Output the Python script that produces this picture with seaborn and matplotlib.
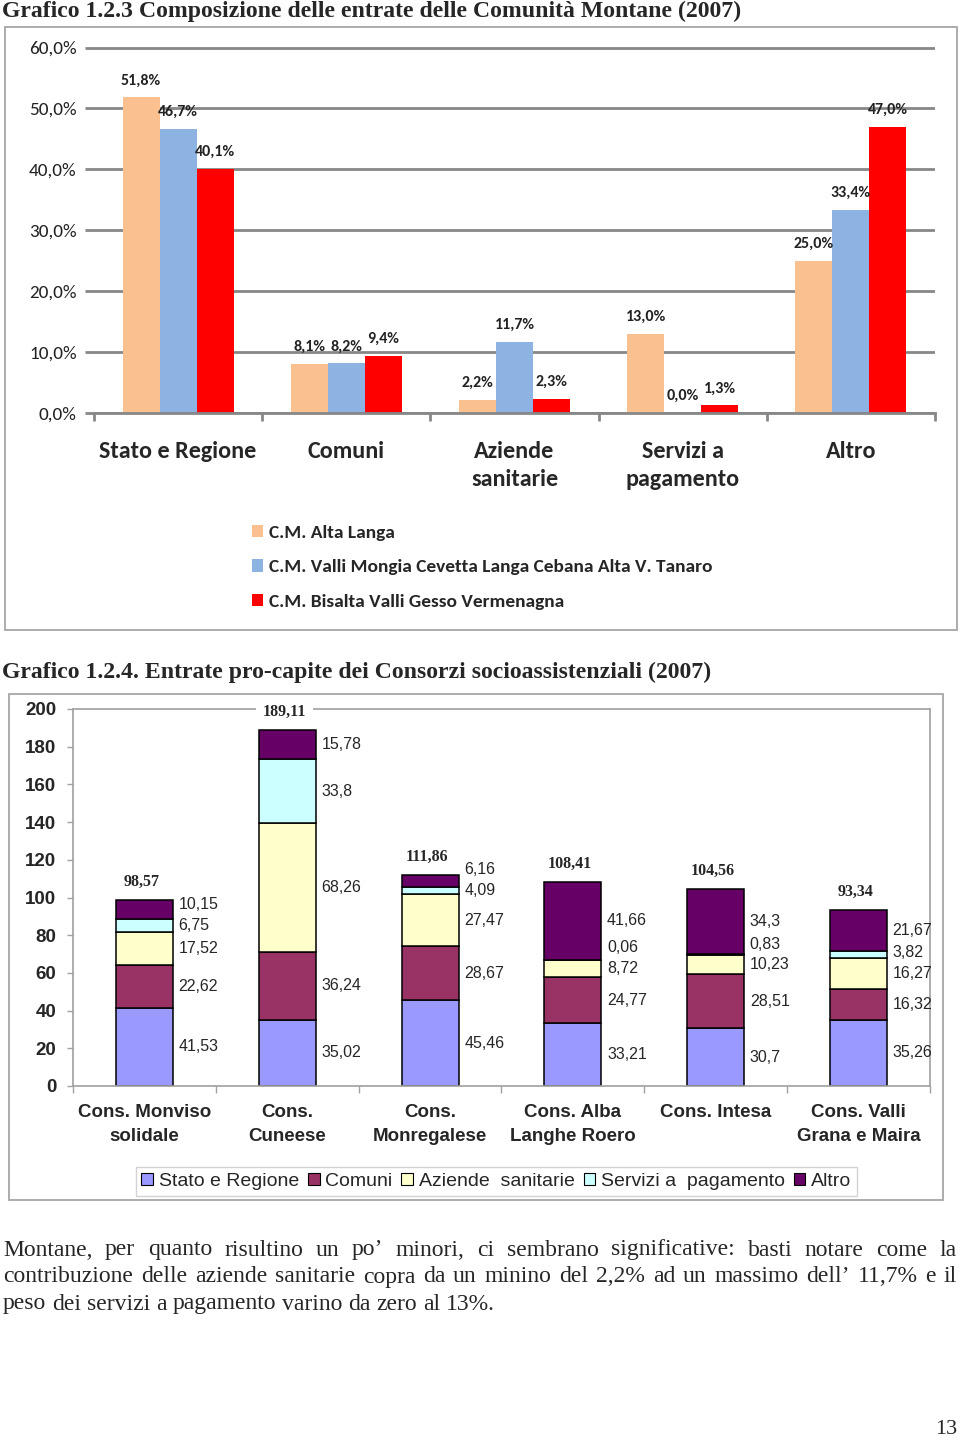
import numpy as np
import pandas as pd
import matplotlib
matplotlib.use("Agg")
import matplotlib.pyplot as plt
from matplotlib import font_manager as fm
from matplotlib.patches import Patch, Rectangle
import seaborn as sns

# ---------- Grafico 1.2.3: composizione entrate Comunita Montane ----------
voci_cm = ["Stato e Regione", "Comuni", "Aziende\nsanitarie", "Servizi a\npagamento", "Altro"]
comunita = ["C.M. Alta Langa",
            "C.M. Valli Mongia Cevetta Langa Cebana Alta V. Tanaro",
            "C.M. Bisalta Valli Gesso Vermenagna"]
alta_langa = [51.8, 8.1, 2.2, 13.0, 25.0]
valli_mongia = [46.7, 8.2, 11.7, 0.0, 33.4]
bisalta = [40.1, 9.4, 2.3, 1.3, 47.0]
yticks_cm = [0, 10, 20, 30, 40, 50, 60]
colori_cm = ["#FAC08F", "#8DB3E2", "#FF0000"]

# ---------- Grafico 1.2.4: entrate pro-capite Consorzi ----------
consorzi = ["Cons. Monviso\nsolidale", "Cons.\nCuneese", "Cons.\nMonregalese",
            "Cons. Alba\nLanghe Roero", "Cons. Intesa", "Cons. Valli\nGrana e Maira"]
voci_cons = ["Stato e Regione", "Comuni", "Aziende  sanitarie", "Servizi a  pagamento", "Altro"]
stato_regione = [41.53, 35.02, 45.46, 33.21, 30.7, 35.26]
comuni = [22.62, 36.24, 28.67, 24.77, 28.51, 16.32]
aziende = [17.52, 68.26, 27.47, 8.72, 10.23, 16.27]
servizi = [6.75, 33.8, 4.09, 0.06, 0.83, 3.82]
altro = [10.15, 15.78, 6.16, 41.66, 34.3, 21.67]
totali = [98.57, 189.11, 111.86, 108.41, 104.56, 93.34]
yticks_cons = list(range(0, 201, 20))
colori_cons = ["#9999FF", "#993366", "#FFFFCC", "#CCFFFF", "#660066"]

paragrafo = [
    "Montane, per quanto risultino un po’ minori, ci sembrano significative: basti notare come la",
    "contribuzione delle aziende sanitarie copra da un minino del 2,2% ad un massimo dell’ 11,7% e il",
    "peso dei servizi a pagamento varino da zero al 13%.",
]


def ha_bold(fam):
    return any(f.name == fam and f.weight in (600, 700, 800, "bold", "semibold")
               for f in fm.fontManager.ttflist)


# Calibri-like font for the first chart, if one with a bold face is around
CAL = next((f for f in ["Carlito", "Lato", "Open Sans", "Noto Sans", "Roboto"] if ha_bold(f)),
           "DejaVu Sans")

sns.set_style("white")
plt.rcParams["font.family"] = [CAL, "DejaVu Sans"]

W, H = 960, 1440
fig = plt.figure(figsize=(9.6, 14.4), dpi=100)
renderer = fig.canvas.get_renderer()

SERIF = ["Liberation Serif", "DejaVu Serif"]
ARIAL = ["Liberation Sans", "DejaVu Sans"]


def misura(testo, **kw):
    t = fig.text(0, 0, testo, **kw)
    w = t.get_window_extent(renderer).width
    t.remove()
    return w


def taglia(testo, px, **kw):
    # font size that makes `testo` about px pixels wide
    return 10 * px / misura(testo, fontsize=10, **kw)


def box(x0, y0, x1, y1):
    # pixel box (top-left origin) -> figure fraction rect
    return [x0 / W, 1 - y1 / H, (x1 - x0) / W, (y1 - y0) / H]


def cornice(x0, y0, x1, y1, col="#A6A6A6"):
    fig.add_artist(Rectangle((x0 / W, 1 - y1 / H), (x1 - x0) / W, (y1 - y0) / H,
                             transform=fig.transFigure, fill=False,
                             edgecolor=col, linewidth=1.3))


# ========== chart 1 ==========
tit1 = "Grafico 1.2.3 Composizione delle entrate delle Comunità Montane (2007)"
fig.text(2 / W, 1 - 11 / H, tit1, family=SERIF, weight="bold",
         fontsize=taglia(tit1, 740, family=SERIF, weight="bold"), va="center", ha="left")
cornice(5, 27, 957, 630)

ax1 = fig.add_axes(box(94, 46, 935, 413))
df1 = pd.DataFrame({
    "voce": voci_cm * 3,
    "quota": alta_langa + valli_mongia + bisalta,
    "cm": np.repeat(comunita, len(voci_cm)),
})
sns.barplot(data=df1, x="voce", y="quota", hue="cm", hue_order=comunita,
            palette=colori_cm, width=0.66, gap=0, saturation=1, linewidth=0,
            errorbar=None, legend=False, ax=ax1)

fs_lab = min(taglia("51,8%", 42, family=CAL, weight="bold"), 11.5)
for cont, serie in zip(ax1.containers, [alta_langa, valli_mongia, bisalta]):
    ax1.bar_label(cont, labels=[f"{v:.1f}%".replace(".", ",") for v in serie],
                  padding=7, fontsize=fs_lab, fontweight="bold", color="#222222")

gray = "#878787"
ax1.set_ylim(0, 60.25)
ax1.set_xlim(-0.5, 4.5)
ax1.set_yticks(yticks_cm)
ax1.set_yticklabels([f"{t:.1f}%".replace(".", ",") for t in yticks_cm])
ax1.yaxis.grid(True, color=gray, linewidth=2)
ax1.set_axisbelow(True)
for s in ["top", "right", "left"]:
    ax1.spines[s].set_visible(False)
ax1.spines["bottom"].set_color(gray)
ax1.spines["bottom"].set_linewidth(2)
ax1.tick_params(axis="y", left=True, length=6.5, width=2, color=gray, pad=6,
                labelsize=taglia("60,0%", 48, family=CAL), labelcolor="#222222")
ax1.set_xticks(range(len(voci_cm)))
fs_cat = taglia("Stato e Regione", 156, family=CAL, weight="bold")
ax1.set_xticklabels(voci_cm, fontsize=fs_cat, fontweight="bold", linespacing=1.45)
ax1.tick_params(axis="x", which="major", length=0, pad=20)
ax1.set_xticks(np.arange(-0.5, len(voci_cm)), minor=True)
ax1.tick_params(axis="x", which="minor", bottom=True, length=6, width=2, color=gray)
ax1.set_xlabel("")
ax1.set_ylabel("")

fs_leg1 = taglia(comunita[1], 444, family=CAL, weight="bold")
handles1 = [Patch(facecolor=c, edgecolor="none") for c in colori_cm]
fig.legend(handles1, comunita, loc="upper left",
           bbox_to_anchor=(242 / W, 1 - 515 / H), frameon=False,
           prop={"family": [CAL, "DejaVu Sans"], "weight": "bold", "size": fs_leg1},
           handlelength=0.6, handleheight=0.6, handletextpad=0.3,
           labelspacing=0.95, borderpad=0)

# ========== chart 2 ==========
tit2 = "Grafico 1.2.4. Entrate pro-capite dei Consorzi socioassistenziali (2007)"
fig.text(2 / W, 1 - 672 / H, tit2, family=SERIF, weight="bold",
         fontsize=taglia(tit2, 711, family=SERIF, weight="bold"), va="center", ha="left")
cornice(9, 694, 943, 1200)

ax2 = fig.add_axes(box(73, 709, 930, 1086))
serie_cons = [stato_regione, comuni, aziende, servizi, altro]
df2 = pd.DataFrame({
    "consorzio": consorzi * len(voci_cons),
    "voce": np.repeat(voci_cons, len(consorzi)),
    "euro": sum(serie_cons, []),
})
# seaborn stacks the first hue level on top, so reverse to get Stato e Regione at the bottom
sns.histplot(data=df2, x="consorzio", weights="euro", hue="voce",
             hue_order=voci_cons[::-1], multiple="stack", discrete=True, shrink=0.4,
             palette=dict(zip(voci_cons, colori_cons)), edgecolor="black",
             linewidth=1.1, alpha=1, legend=False, ax=ax2)

valori = np.array(serie_cons)
basi = np.vstack([np.zeros(len(consorzi)), np.cumsum(valori, axis=0)[:-1]])
medi = basi + valori / 2
for j in range(len(consorzi)):
    y_prec = -np.inf
    for k in range(len(voci_cons)):
        y = max(medi[k, j], y_prec + 11)
        ax2.annotate(f"{valori[k, j]:g}".replace(".", ","), xy=(j + 0.2, y),
                     xytext=(4, 0), textcoords="offset points", ha="left", va="center",
                     fontsize=11.5, family=ARIAL)
        y_prec = y
    ax2.annotate(f"{totali[j]:g}".replace(".", ","), xy=(j, totali[j]),
                 xytext=(-2, 13), textcoords="offset points", ha="center", va="center",
                 fontsize=11.5, family=SERIF, weight="bold",
                 bbox=dict(boxstyle="square,pad=0.4", fc="white", ec="none"))

gray2 = "#A0A0A0"
ax2.set_ylim(0, 200)
ax2.set_xlim(-0.5, len(consorzi) - 0.5)
ax2.set_yticks(yticks_cons)
ax2.set_yticklabels([str(t) for t in yticks_cons], family=ARIAL, fontsize=13.5,
                    fontweight="bold")
for s in ax2.spines.values():
    s.set_color(gray2)
    s.set_linewidth(1.2)
ax2.tick_params(axis="y", left=True, length=4, width=1, color=gray2, pad=8)
ax2.set_xticks(range(len(consorzi)))
ax2.set_xticklabels(consorzi, family=ARIAL, fontsize=13.5, fontweight="bold",
                    linespacing=1.5)
ax2.tick_params(axis="x", which="major", length=0, pad=13)
ax2.set_xticks(np.arange(-0.5, len(consorzi)), minor=True)
ax2.tick_params(axis="x", which="minor", bottom=True, length=5, width=1, color=gray2)
ax2.grid(False)
ax2.set_xlabel("")
ax2.set_ylabel("")

handles2 = [Patch(facecolor=c, edgecolor="black", linewidth=0.8) for c in colori_cons]
leg2 = fig.legend(handles2, voci_cons, loc="center",
                  bbox_to_anchor=(496.5 / W, 1 - 1181.5 / H), ncol=5, frameon=True,
                  fancybox=False, edgecolor="#C8C8C8",
                  prop={"family": ARIAL, "size": 14},
                  handlelength=0.6, handleheight=0.6, handletextpad=0.3,
                  columnspacing=0.45, borderpad=0.3)
leg2.get_frame().set_linewidth(1)

# ========== testo ==========
fs_txt = taglia(paragrafo[2], 494, family=SERIF)
x_sx, x_dx = 3, 957
for i, riga in enumerate(paragrafo):
    y = 1 - (1250 + 27 * i) / H
    parole = riga.split(" ")
    testi = [fig.text(0, y, p, family=SERIF, fontsize=fs_txt, va="center", ha="left")
             for p in parole]
    larg = [t.get_window_extent(renderer).width for t in testi]
    if i < len(paragrafo) - 1:
        spazio = (x_dx - x_sx - sum(larg)) / (len(parole) - 1)
    else:
        spazio = misura("a a", family=SERIF, fontsize=fs_txt) - misura("aa", family=SERIF, fontsize=fs_txt)
    x = x_sx
    for t, w in zip(testi, larg):
        t.set_x(x / W)
        x += w + spazio

fig.text(957 / W, 1 - 1430 / H, "13", family=SERIF, fontsize=16, ha="right", va="center")

fig.savefig("out.png", dpi=100)
